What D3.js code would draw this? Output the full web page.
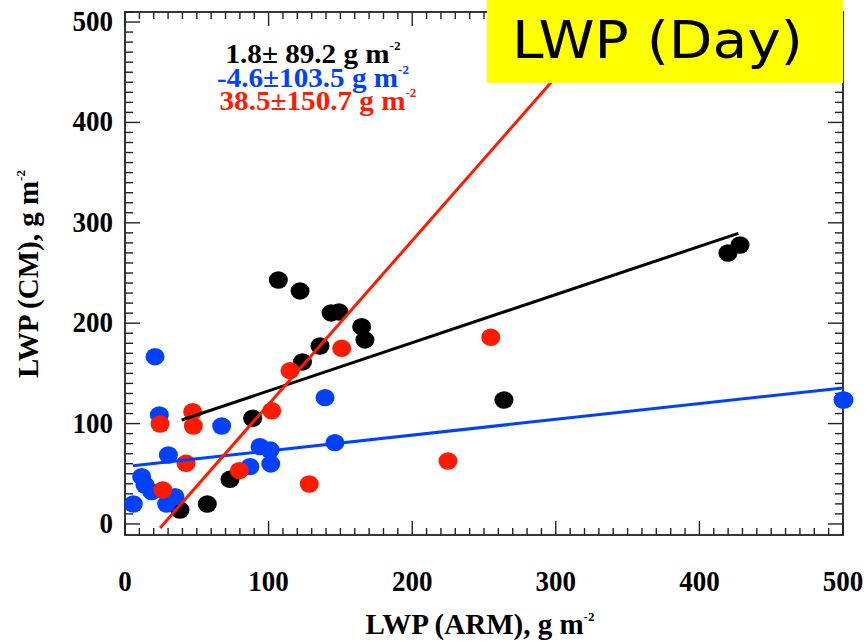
<!DOCTYPE html>
<html><head><meta charset="utf-8">
<script src="https://cdn.jsdelivr.net/npm/d3@7"></script>
<style>body{margin:0;background:#fff}svg{display:block}</style>
</head><body>
<script>
// ---- data ----
const xTicks = [0, 100, 200, 300, 400, 500];
const yTicks = [0, 100, 200, 300, 400, 500];
const blackX = [38.3, 57.3, 73.1, 88.9, 106.8, 121.9, 123.6, 135.8, 143.5, 149.0, 164.8, 167.1, 263.9, 419.9, 428.3];
const blackY = [13.9, 19.9, 44.5, 105.3, 243.0, 232.1, 161.4, 177.3, 210.2, 211.2, 196.5, 183.3, 123.5, 269.9, 277.9];
const blueX = [20.9, 23.9, 67.3, 30.2, 94.0, 101.0, 101.5, 87.0, 146.2, 139.3, 11.6, 13.9, 18.6, 5.8, 29.0, 34.8, 500];
const blueY = [166.6, 108.6, 97.6, 68.7, 77.0, 73.7, 59.8, 57.1, 81.0, 125.8, 47.1, 38.8, 32.2, 19.9, 19.9, 27.2, 123.5];
const redX = [24.4, 47.1, 47.6, 42.5, 26.3, 79.6, 102.2, 114.9, 150.9, 128.3, 254.7, 224.9];
const redY = [99.6, 111.9, 97.6, 60.5, 33.9, 53.1, 112.8, 152.7, 175.0, 39.8, 186.0, 62.7];
// fit lines: [x0, y0, x1, y1]
const blackFit = [39.5, 103.6, 427.1, 289.5];
const blueFit = [5.6, 58.1, 500, 135.5];
const redFit = [24.4, -4.0, 340, 510.4];
const statLabels = ["1.8\u00b1 89.2 g m", "-4.6\u00b1103.5 g m", "38.5\u00b1150.7 g m"];
const statColors = ["#000000", "#0040ff", "#ff1a00"];
const xTitle = "LWP (ARM), g m";
const yTitle = "LWP (CM), g m";
const boxLabel = "LWP (Day)";

const W = 868, H = 642;
const svg = d3.select("body").append("svg").attr("width", W).attr("height", H);
const x = d3.scaleLinear().domain([0, 500]).range([125, 843]);
const y = d3.scaleLinear().domain([-11, 510]).range([535, 12]);
const serif = "'Liberation Serif','Times New Roman',serif";

svg.append("defs").append("clipPath").attr("id", "clip")
  .append("rect").attr("x", x(0)).attr("y", y(510)).attr("width", x(500) - x(0)).attr("height", y(-11) - y(510));

// frame and ticks
const axCol = "#222";
svg.append("rect").attr("x", x(0)).attr("y", y(510)).attr("width", x(500) - x(0)).attr("height", y(-11) - y(510))
  .attr("fill", "none").attr("stroke", axCol).attr("stroke-width", 1.8);
const xMinor = d3.range(0, 501, 10);
const yMinor = d3.range(0, 511, 10);
const tk = svg.append("g").attr("stroke", axCol).attr("stroke-width", 1.4);
xMinor.forEach(v => {
  const L = v % 100 === 0 ? 14 : 7;
  tk.append("line").attr("x1", x(v)).attr("x2", x(v)).attr("y1", y(-11)).attr("y2", y(-11) - L);
  tk.append("line").attr("x1", x(v)).attr("x2", x(v)).attr("y1", y(510)).attr("y2", y(510) + L);
});
yMinor.forEach(v => {
  const L = v % 100 === 0 ? 15 : 8;
  tk.append("line").attr("y1", y(v)).attr("y2", y(v)).attr("x1", x(0)).attr("x2", x(0) + L);
  tk.append("line").attr("y1", y(v)).attr("y2", y(v)).attr("x1", x(500)).attr("x2", x(500) - L);
});

// tick labels
svg.append("g").selectAll("text").data(xTicks).join("text")
  .attr("transform", d => `translate(${x(d)},591) scale(1,1.08)`).attr("text-anchor", "middle")
  .attr("font-family", serif).attr("font-weight", "bold").attr("font-size", 27).text(d => d);
svg.append("g").selectAll("text").data(yTicks).join("text")
  .attr("transform", d => `translate(113,${y(d) + 9}) scale(1,1.08)`).attr("text-anchor", "end")
  .attr("font-family", serif).attr("font-weight", "bold").attr("font-size", 27).text(d => d);

// axis titles
const xt = svg.append("text").attr("x", 480).attr("y", 634).attr("text-anchor", "middle")
  .attr("font-family", serif).attr("font-weight", "bold").attr("font-size", 29);
xt.append("tspan").text(xTitle);
xt.append("tspan").attr("dy", -13).attr("font-size", 13).text("-2");
const yt = svg.append("text").attr("transform", "translate(38,274) rotate(-90)").attr("text-anchor", "middle")
  .attr("font-family", serif).attr("font-weight", "bold").attr("font-size", 29);
yt.append("tspan").text(yTitle);
yt.append("tspan").attr("dy", -13).attr("font-size", 13).text("-2");

// plot content
const plot = svg.append("g").attr("clip-path", "url(#clip)");
const lineFor = (f, col) => plot.append("line")
  .attr("x1", x(f[0])).attr("y1", y(f[1])).attr("x2", x(f[2])).attr("y2", y(f[3]))
  .attr("stroke", col).attr("stroke-width", 3);
const dots = (xs, ys, col) => plot.append("g").selectAll("ellipse").data(xs).join("ellipse")
  .attr("cx", (d) => x(d)).attr("cy", (d, i) => y(ys[i])).attr("rx", 9.5).attr("ry", 8.7).attr("fill", col);

dots(blackX, blackY, statColors[0]);
dots(blueX, blueY, statColors[1]);
dots(redX, redY, statColors[2]);
lineFor(blackFit, statColors[0]);
lineFor(blueFit, statColors[1]);
lineFor(redFit, statColors[2]);
// blue point at right edge drawn unclipped
svg.append("ellipse").attr("cx", x(blueX[16]) + 1).attr("cy", y(blueY[16])).attr("rx", 9.5).attr("ry", 8.7).attr("fill", statColors[1]);

// stats text
const statY = [63, 86.5, 110];
const statX = [313, 313, 318];
statLabels.forEach((s, i) => {
  const t = svg.append("text").attr("transform", `translate(${statX[i]},${statY[i]}) scale(1.1,1)`)
    .attr("text-anchor", "middle").attr("fill", statColors[i])
    .attr("font-family", serif).attr("font-weight", "bold").attr("font-size", 26.5);
  t.append("tspan").text(s);
  t.append("tspan").attr("dy", -13).attr("font-size", 12).text("-2");
});

// yellow label box
svg.append("rect").attr("x", 487).attr("y", 0).attr("width", 356).attr("height", 83).attr("fill", "#ffff00");
svg.append("text").attr("x", 512).attr("y", 58).attr("font-family", "'DejaVu Sans',sans-serif")
  .attr("font-size", 51).attr("textLength", 291).attr("lengthAdjust", "spacingAndGlyphs").attr("fill", "#000").text(boxLabel);
</script>
</body></html>
